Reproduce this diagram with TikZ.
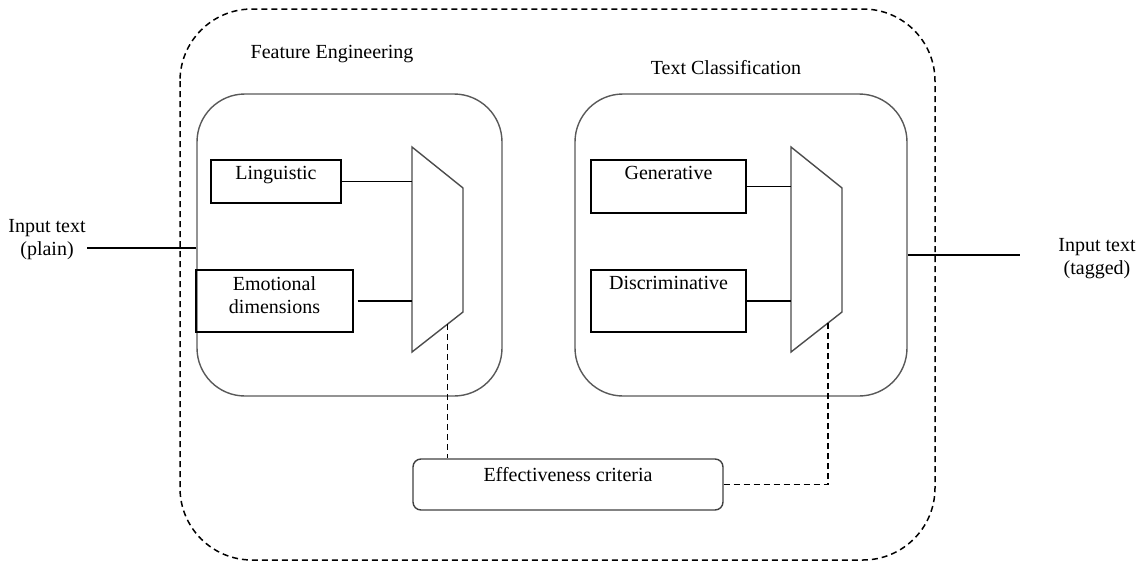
\documentclass[tikz,border=0pt]{standalone}
\usepackage{fontspec}
\setmainfont{Liberation Serif}
\usetikzlibrary{positioning,calc}
\tikzset{
  stage/.style = {draw=black!65, line width=1.4pt, rounded corners=48pt},
  featbox/.style = {draw, line width=1.3pt},
  critbox/.style = {draw=black!75, line width=1.4pt, rounded corners=8pt},
  muxshape/.style = {draw=black!70, line width=1.4pt, line join=miter},
  wire/.style = {line width=1.3pt},
  ctrl/.style = {line width=1.5pt, dash pattern=on 6pt off 4pt}
}

\begin{document}
\begin{tikzpicture}[x=1pt, y=-1pt, font=\fontsize{20}{23}\selectfont,
    every label/.style={inner sep=7pt}]
  \useasboundingbox (0,0) rectangle (1143,565);
  % outer system boundary
  \draw[ctrl, rounded corners=72pt] (180,9) rectangle (935,560);

  % the two stages
  \node[stage, minimum width=305pt, minimum height=302pt] (fe) at (349.5,245) {};
  \node[stage, minimum width=332pt, minimum height=302pt] (tc) at (741,245) {};
  \node (fetitle) at (332,54) {Feature Engineering};
  \node (tctitle) at (726,68) {Text Classification};

  % feature boxes
  \node[featbox, minimum width=130pt, minimum height=43pt,
    label={[anchor=north]north:Linguistic}] (ling) at (276,181.5) {};
  \node[featbox, minimum width=157pt, minimum height=62pt,
    label={[anchor=north, align=center]north:Emotional\\dimensions}] (emo) at (274.5,301) {};
  \node[featbox, minimum width=155pt, minimum height=53pt,
    label={[anchor=north]north:Generative}] (gen) at (668.5,186.5) {};
  \node[featbox, minimum width=155pt, minimum height=62pt,
    label={[anchor=north]north:Discriminative}] (disc) at (668.5,301) {};

  % multiplexers
  \draw[muxshape] (412,147) coordinate (femux) -- (463,188) -- (463,312) coordinate (femux-br)
    -- (412,352) coordinate (femux-bl) -- cycle;
  \draw[muxshape] (791,147) coordinate (tcmux) -- (842,188) -- (842,312) coordinate (tcmux-br)
    -- (791,352) coordinate (tcmux-bl) -- cycle;
  \coordinate (fesel) at ($(femux-bl)!0.7!(femux-br)$);
  \coordinate (tcsel) at ($(tcmux-bl)!0.73!(tcmux-br)$);

  \draw[wire] (ling.east) -- (ling.east -| femux);
  \draw[wire] ([xshift=4pt]emo.east) -- (emo.east -| femux);
  \draw[wire] (gen.east) -- (gen.east -| tcmux);
  \draw[wire] (disc.east) -- (disc.east -| tcmux);

  % criteria
  \node[critbox, minimum width=310pt, minimum height=51pt,
    label={[anchor=north, inner sep=9pt]north:Effectiveness criteria}] (crit) at (568,484.5) {};
  \draw[ctrl] (fesel) -- (fesel |- crit.north);
  \draw[ctrl] (crit.east) -| (tcsel);

  % input and output
  \node[align=center, inner sep=1pt] (inplain) at (47,240) {Input text\\(plain)};
  \node[align=center, inner sep=1pt] (outtag) at (1097,259) {Input text\\(tagged)};
  \coordinate (outend) at (1020,255);
  \draw[wire] ([yshift=-3pt]fe.west) -- ([yshift=-3pt]fe.west -| inplain.east);
  \draw[wire] ([yshift=-10pt]tc.east) -- (outend);
\end{tikzpicture}
\end{document}
